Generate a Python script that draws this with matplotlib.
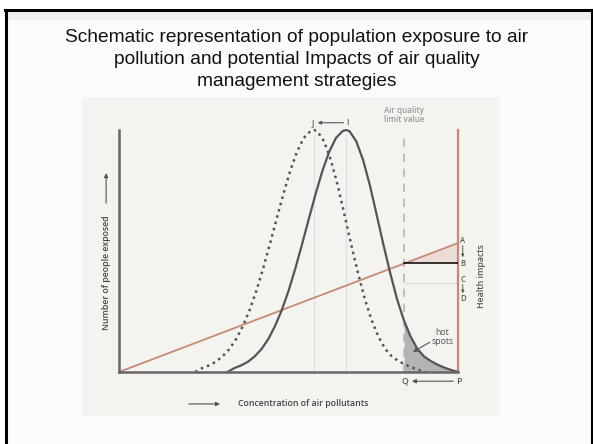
import matplotlib.pyplot as plt
from matplotlib.patches import Rectangle

# concentration (0..100) vs number of people exposed (0..100)
conc_now = [32, 34, 36, 38, 40, 42, 44, 46, 48, 50, 52, 54, 56, 58, 60, 62, 64, 66, 67,
            68, 70, 72, 74, 76, 78, 80, 82, 84, 86, 88, 90, 92, 94, 96, 98, 100]
people_now = [0, 1.6, 2.7, 4.2, 6.4, 9.4, 13.5, 18.9, 25.5, 33.5, 42.7, 52.8, 63.3, 73.6, 83.1,
              91.0, 96.7, 99.6, 100, 99.5, 95.3, 87.6, 77.2, 65.0, 52.6, 40.9, 30.2, 21.5,
              14.7, 9.6, 6.4, 4.5, 3.0, 1.8, 0.8, 0]
conc_after = [22.5, 24.5, 26.5, 28.5, 30.5, 32.5, 34.5, 36.5, 38.5, 40.5, 42.5, 44.5, 46.5, 48.5,
              50.5, 52.5, 54.5, 56.5, 57.5, 58.5, 60.5, 62.5, 64.5, 66.5, 68.5, 70.5, 72.5, 74.5,
              76.5, 78.5, 80.5, 82.5, 84.5, 86.5, 88.5, 90.5]
people_after = [0, 1.6, 2.7, 4.2, 6.4, 9.4, 13.5, 18.9, 25.5, 33.5, 42.7, 52.8, 63.3, 73.6, 83.1,
                91.0, 96.7, 99.6, 100, 99.5, 95.3, 87.6, 77.2, 65.0, 52.6, 40.9, 30.2, 21.5,
                14.7, 9.6, 6.4, 4.5, 3.0, 1.8, 0.8, 0]
impact_conc = [0, 100]
impact_level = [0, 53.3]
limit_value = 84.1
impact_at_limit = 45.0

W, H = 593, 444
fig = plt.figure(figsize=(W / 100, H / 100), dpi=100)

# slide background / frame (pixel coords)
bg = fig.add_axes([0, 0, 1, 1])
bg.set_xlim(0, W)
bg.set_ylim(H, 0)
bg.axis('off')
bg.add_patch(Rectangle((5, 10), 586, 440, facecolor='#fafcfd', edgecolor='none'))
bg.add_patch(Rectangle((5, 11), 586, 9, facecolor='#eeeeee', edgecolor='none'))
bg.plot([5, 591], [10, 10], color='black', lw=2.2)
bg.plot([5.5, 5.5], [10, 444], color='black', lw=2.2)
bg.plot([591.5, 591.5], [10, 444], color='black', lw=1.5)
bg.add_patch(Rectangle((82, 97), 418, 319, facecolor='#f3f3ef', edgecolor='none'))

title = ['Schematic representation of population exposure to air',
         'pollution and potential Impacts of air quality',
         'management strategies']
for i, line in enumerate(title):
    bg.text(297, 38 + i * 21.5, line, ha='center', va='center', fontsize=13.8,
            family='Liberation Sans', color='#111111')

# chart area: x 0..100 -> px 119..458, y 0..100 -> px 372..130
ax = fig.add_axes([119 / W, (H - 372) / H, 339 / W, 242 / H])
ax.set_xlim(0, 100)
ax.set_ylim(0, 100)
ax.patch.set_alpha(0)
for s in ['top', 'right']:
    ax.spines[s].set_visible(False)
for s in ['left', 'bottom']:
    ax.spines[s].set_color('#666666')
    ax.spines[s].set_linewidth(1.8)
ax.set_xticks([])
ax.set_yticks([])

grey = '#555555'
red = '#c98a75'

# faint guide lines
ax.plot([57.5, 57.5], [0, 98], color='#dedede', lw=0.8)
ax.plot([67, 67], [0, 98], color='#dedede', lw=0.8)
ax.plot([limit_value, 100], [36.8, 36.8], color='#dcdcdc', lw=0.8)

# hot spots area
hx = [c for c in conc_now if c >= limit_value]
hy = [p for c, p in zip(conc_now, people_now) if c >= limit_value]
ax.fill_between([limit_value] + hx, [21.4] + hy, 0, color='#b3b3b3', lw=0)

# health impact triangle
ax.fill([limit_value, 100, 100], [impact_at_limit, impact_level[1], impact_at_limit],
        color='#ecdcd8', lw=0)

ax.plot([limit_value, limit_value], [0, 99], color='#b5b5b5', lw=1.2, ls=(0, (5, 4)))
ax.plot(impact_conc, impact_level, color=red, lw=1.3)
ax.plot([100, 100], [0, 100], color=red, lw=1.6, clip_on=False)
ax.plot([limit_value, 100], [impact_at_limit, impact_at_limit], color='black', lw=1.1)

ax.plot(conc_after, people_after, color=grey, lw=1.8, ls=(0, (1, 1.6)), clip_on=False)
ax.plot(conc_now, people_now, color=grey, lw=1.6, clip_on=False)

small = dict(family='Open Sans', color=grey, fontsize=5.5, fontweight='semibold')


def arrow(x0, y0, x1, y1, scale=6, lw=0.8):
    ax.annotate('', xy=(x1, y1), xytext=(x0, y0), annotation_clip=False,
                arrowprops=dict(arrowstyle='-|>', color=grey, lw=lw, mutation_scale=scale,
                                shrinkA=0, shrinkB=0))


ax.text(limit_value, 106, 'Air quality\nlimit value', ha='center', va='center',
        linespacing=1.0, **dict(small, color='#9a9a9a', fontsize=5.8))
ax.text(57.2, 103, 'J', ha='center', va='center', **small)
ax.text(67.3, 103, 'I', ha='center', va='center', **small)
arrow(66.2, 103, 58.6, 103, scale=5)

ax.text(101.4, 54.5, 'A', ha='center', va='center', **small)
ax.text(101.4, 45, 'B', ha='center', va='center', **small)
ax.text(101.4, 38.4, 'C', ha='center', va='center', **small)
ax.text(101.4, 30.2, 'D', ha='center', va='center', **small)
arrow(101.4, 52.2, 101.4, 47.4, scale=4, lw=0.7)
arrow(101.4, 36.2, 101.4, 32.5, scale=4, lw=0.7)
ax.text(106.8, 39.7, 'Health impacts', rotation=90, ha='center', va='center',
        **dict(small, fontsize=6.3))

ax.text(84.4, -3.8, 'Q', ha='center', va='center', **dict(small, fontsize=6.3))
ax.text(100.3, -3.8, 'P', ha='center', va='center', **dict(small, fontsize=6.3))
arrow(98.6, -3.8, 86.4, -3.8)

ax.text(95.3, 14.5, 'hot\nspots', ha='center', va='center', linespacing=1.0,
        **dict(small, fontweight='normal', fontsize=6.2))
arrow(91.7, 12.3, 86.7, 8.3)

ax.text(35.1, -13.2, 'Concentration of air pollutants', ha='left', va='center',
        **dict(small, fontsize=6.3, color='#444444'))
arrow(20.6, -13.2, 29.8, -13.2)
ax.text(-3.8, 40.9, 'Number of people exposed', rotation=90, ha='center', va='center',
        **dict(small, fontsize=6.3, color='#444444'))
arrow(-3.8, 69.8, -3.8, 82.2)

fig.savefig('out.png', dpi=100)
